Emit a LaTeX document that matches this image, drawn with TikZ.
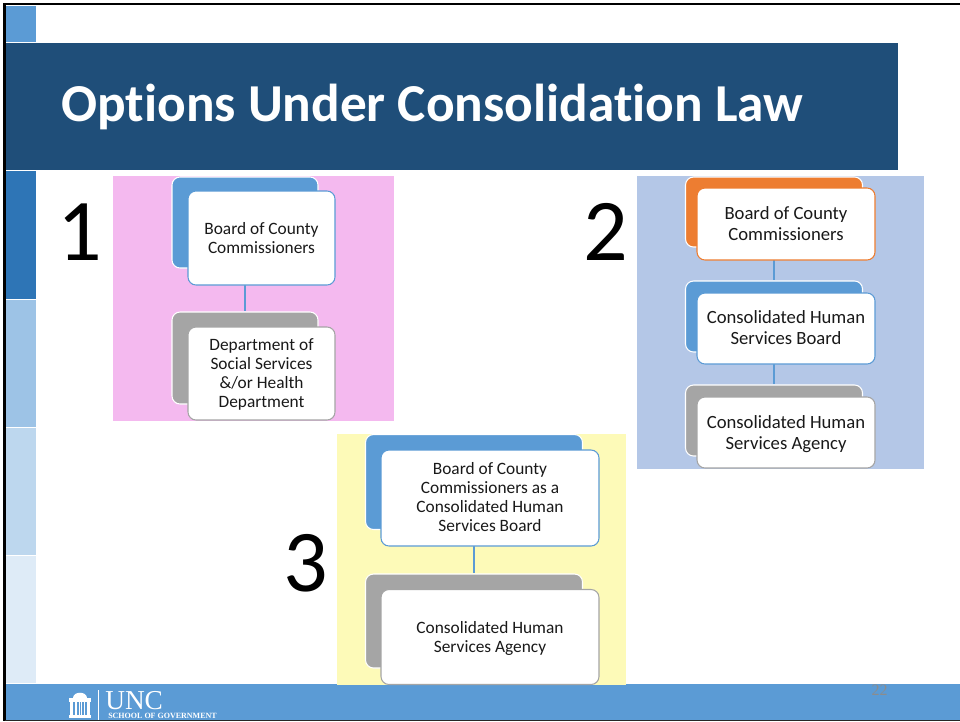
\documentclass[tikz,border=0pt]{standalone}
\usepackage{fontspec}
\setmainfont[Ligatures=NoCommon]{Carlito}
\newfontfamily\serifname{Liberation Serif}
\definecolor{cblue}{HTML}{5B9BD5}
\definecolor{cnavy}{HTML}{1F4E79}
\definecolor{cmid}{HTML}{2E75B6}
\definecolor{clight}{HTML}{9DC3E6}
\definecolor{cpale}{HTML}{BDD7EE}
\definecolor{cpaler}{HTML}{DEEBF7}
\definecolor{cpink}{HTML}{F4B9EF}
\definecolor{cperi}{HTML}{B4C7E7}
\definecolor{cyel}{HTML}{FDFAB8}
\definecolor{corange}{HTML}{ED7D31}
\definecolor{cgrey}{HTML}{A5A5A5}
\tikzset{
  x=0.75pt,y=-0.75pt,
  band/.style={fill=#1,draw=none},
  backbox/.style={draw=white,line width=0.8pt,fill=#1,rounded corners=6pt,inner sep=0pt},
  frontbox/.style={draw=#1,line width=0.8pt,fill=white,rounded corners=6pt},
  link/.style={draw=cblue,line width=1.5pt},
  lbl/.style={align=center,text=black!90,inner sep=0pt},
  smalltxt/.style={font=\fontsize{13}{14.2}\selectfont},
  bigtxt/.style={font=\fontsize{14}{15.7}\selectfont},
  bignum/.style={font=\fontsize{66}{66}\selectfont,text=black,inner sep=0pt},
}
\newcommand{\lowered}[3]{\parbox{#2}{\centering\vspace*{#1}#3}}
\begin{document}
\begin{tikzpicture}
\useasboundingbox (0,0) rectangle (960,721);
\fill[white] (0,0) rectangle (960,721);
% side bands
\path[band=cblue] (6,6) rectangle (36,42);
\path[band=cnavy] (6,43) rectangle (898,170);
\path[band=cmid] (6,171) rectangle (36,299);
\path[band=clight] (6,300) rectangle (36,427);
\path[band=cpale] (6,428) rectangle (36,555);
\path[band=cpaler] (6,556) rectangle (36,683);
\path[band=cblue] (6,684) rectangle (960,720);
% slide frame
\fill[black] (3,3) rectangle (960,5.3);
\fill[black] (3,3) rectangle (5.5,721);
\fill[black!85] (5,720) rectangle (960,721);
% title
\node[anchor=west,inner sep=0pt,text=white,font=\bfseries\fontsize{40}{40}\selectfont] (title) at (61,106.5) {Options Under Consolidation Law};
% panels
\fill[cpink] (113,176) rectangle (394,421);
\fill[cperi] (637,176) rectangle (924,469);
\fill[cyel] (337,434) rectangle (626,685);
% option 1
\node[bignum] (n1) at (80,232) {1};
\node[backbox=cblue,minimum width=109.5pt,minimum height=68.25pt] (a1) at (245,222.5) {};
\node[backbox=cgrey,minimum width=109.5pt,minimum height=69pt] (a2) at (245,358) {};
\draw[link] (a1.south) -- (a2.north);
\node[frontbox=cblue,lbl,minimum width=110.25pt,minimum height=70.5pt,smalltxt] (b1) at (261.5,238) {Board of County\\Commissioners};
\node[frontbox=cgrey,lbl,minimum width=110.25pt,minimum height=69.75pt,smalltxt] (b2) at (261.5,373.5) {\lowered{1.5pt}{100pt}{Department of\\Social Services\\\&/or Health\\Department}};
% option 2
\node[bignum] (n2) at (606,232) {2};
\node[backbox=corange,minimum width=132.75pt,minimum height=52.5pt] (c1) at (774,212) {};
\node[backbox=cblue,minimum width=132.75pt,minimum height=53.25pt] (c2) at (774,316.5) {};
\node[backbox=cgrey,minimum width=132.75pt,minimum height=53.25pt] (c3) at (774,420.5) {};
\draw[link] (c1.south) -- (c2.north);
\draw[link] (c2.south) -- (c3.north);
\node[frontbox=corange,lbl,minimum width=133.5pt,minimum height=54pt,bigtxt] (d1) at (786,224) {Board of County\\Commissioners};
\node[frontbox=cblue,lbl,minimum width=133.5pt,minimum height=53.25pt,bigtxt] (d2) at (786,328.5) {\lowered{-1.5pt}{125pt}{Consolidated Human\\Services Board}};
\node[frontbox=cgrey,lbl,minimum width=133.5pt,minimum height=53.25pt,bigtxt] (d3) at (786,432.5) {\lowered{3pt}{125pt}{Consolidated Human\\Services Agency}};
% option 3
\node[bignum] (n3) at (306,563) {3};
\node[backbox=cblue,minimum width=162.75pt,minimum height=71.25pt] (e1) at (474,482) {};
\node[backbox=cgrey,minimum width=162.75pt,minimum height=70.5pt] (e2) at (474,621) {};
\draw[link] (e1.south) -- (e2.north);
\node[frontbox=cblue,lbl,minimum width=163.5pt,minimum height=72pt,smalltxt] (f1) at (490,498) {\lowered{-1.5pt}{150pt}{Board of County\\Commissioners as a\\Consolidated Human\\Services Board}};
\node[frontbox=cgrey,lbl,minimum width=163.5pt,minimum height=71.25pt,smalltxt] (f2) at (490,637) {\lowered{1.5pt}{150pt}{Consolidated Human\\Services Agency}};
% page number
\node[text=black!45,inner sep=0pt,font=\serifname\fontsize{12}{12}\selectfont] (pg) at (879.5,690.5) {22};
% logo
\fill[white] (73,698) .. controls (73,690.5) and (87,690.5) .. (87,698) -- cycle;
\fill[white] (69,698) rectangle (91,702);
\foreach \xa/\xb in {70/73,75/76.5,78.5/79.5,80.5/81.5,83.5/85,87/90}{
  \fill[white] (\xa,702) rectangle (\xb,715);
}
\fill[white] (69,714.5) rectangle (91,718);
\draw[white,line width=0.6pt] (98,690) -- (98,720);
\node[anchor=west,inner sep=0pt,text=white,font=\serifname\fontsize{20.5}{20.5}\selectfont] (unc) at (105,701) {UNC};
\node[anchor=west,inner sep=0pt,text=white,font=\serifname\bfseries\fontsize{6}{6}\selectfont] (sog) at (108,716) {SCHOOL OF GOVERNMENT};
\end{tikzpicture}
\end{document}
